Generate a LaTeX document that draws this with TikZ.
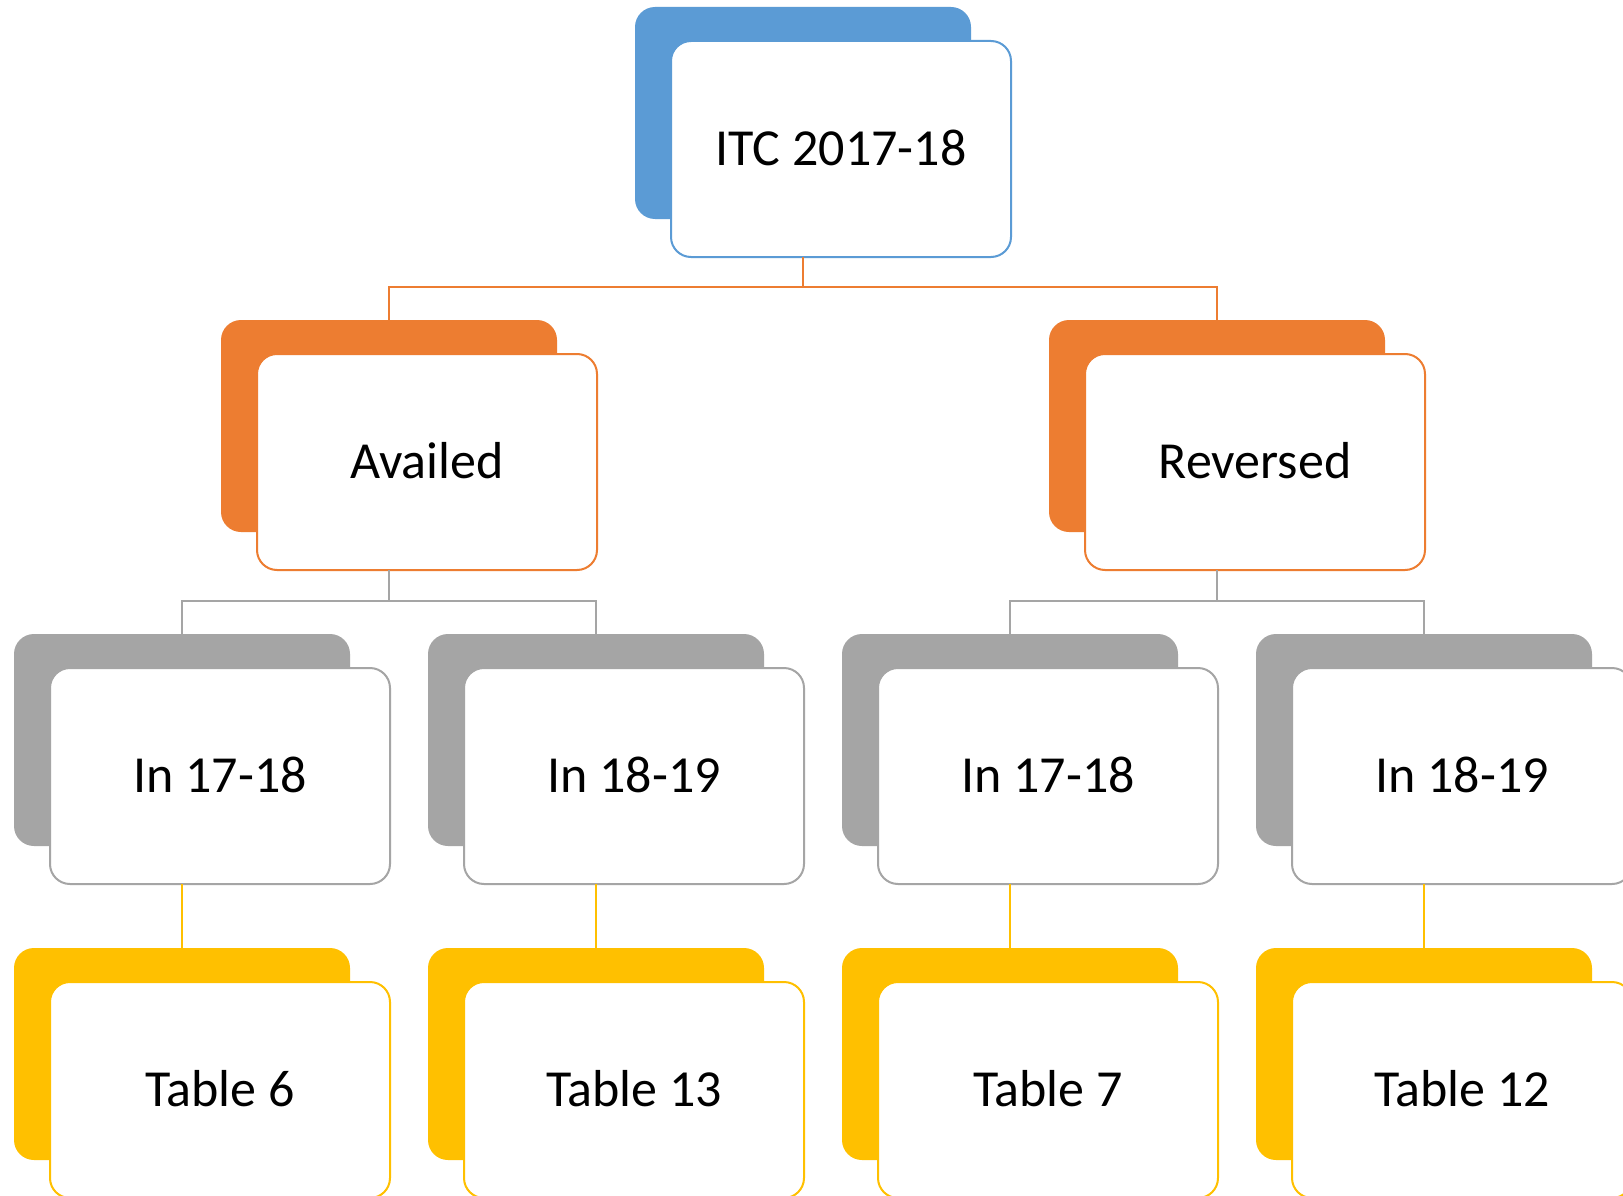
\documentclass[tikz,border=0pt]{standalone}
\usepackage{fontspec}
\setmainfont{Carlito}
\definecolor{cblue}{HTML}{5B9BD5}
\definecolor{corange}{HTML}{ED7D31}
\definecolor{cgray}{HTML}{A5A5A5}
\definecolor{cyellow}{HTML}{FFC000}
\tikzset{
  backcard/.style={fill=#1, draw=none, rounded corners=20pt, minimum width=336pt,
    minimum height=212pt, inner sep=0pt, outer sep=0pt, anchor=north},
  frontcard/.style={fill=white, draw=#1, line width=2pt, rounded corners=20pt,
    minimum width=340pt, minimum height=216pt, inner sep=0pt, outer sep=0pt,
    anchor=north west, font=\fontsize{52}{60}\selectfont},
  link/.style={draw=#1, line width=2pt}
}
% a card: coloured back plate with a white, outlined front plate on it
\newcommand\card[5]{%
  \node[backcard=#4] (#1-b) at (#2,#3) {};
  \node[frontcard=#4] (#1) at ([xshift=36pt,yshift=-34pt]#1-b.north west) {\raisebox{3pt}{#5}};
}
\begin{document}
\begin{tikzpicture}[x=1pt,y=-1pt]
  \useasboundingbox (0,0) rectangle (1623,1196);
  \fill[white] (0,0) rectangle (1623,1196);
  \clip (0,0) rectangle (1623,1196);

  % cards
  \card{top}{803}{7}{cblue}{ITC 2017-18}
  \card{av}{389}{320}{corange}{Availed}
  \card{re}{1217}{320}{corange}{Reversed}
  \card{a1}{182}{634}{cgray}{In 17-18}
  \card{a2}{596}{634}{cgray}{In 18-19}
  \card{r1}{1010}{634}{cgray}{In 17-18}
  \card{r2}{1424}{634}{cgray}{In 18-19}
  \card{t1}{182}{948}{cyellow}{Table 6}
  \card{t2}{596}{948}{cyellow}{Table 13}
  \card{t3}{1010}{948}{cyellow}{Table 7}
  \card{t4}{1424}{948}{cyellow}{Table 12}

  % connectors
  \draw[link=corange] (top-b.center |- top.south) -- ++(0,30) -| (av-b.north);
  \draw[link=corange] (top-b.center |- top.south) -- ++(0,30) -| (re-b.north);
  \draw[link=cgray] (av-b.center |- av.south) -- ++(0,31) -| (a1-b.north);
  \draw[link=cgray] (av-b.center |- av.south) -- ++(0,31) -| (a2-b.north);
  \draw[link=cgray] (re-b.center |- re.south) -- ++(0,31) -| (r1-b.north);
  \draw[link=cgray] (re-b.center |- re.south) -- ++(0,31) -| (r2-b.north);
  \draw[link=cyellow] (a1-b.center |- a1.south) -- (t1-b.north);
  \draw[link=cyellow] (a2-b.center |- a2.south) -- (t2-b.north);
  \draw[link=cyellow] (r1-b.center |- r1.south) -- (t3-b.north);
  \draw[link=cyellow] (r2-b.center |- r2.south) -- (t4-b.north);
\end{tikzpicture}
\end{document}
